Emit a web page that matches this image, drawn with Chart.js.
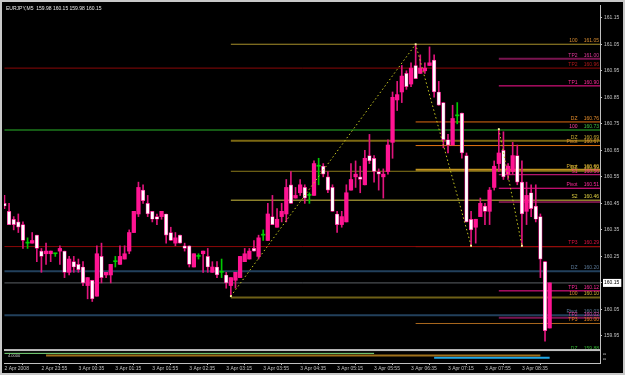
<!DOCTYPE html>
<html>
<head>
<meta charset="utf-8">
<script src="https://cdn.jsdelivr.net/npm/chart.js@4/dist/chart.umd.min.js"></script>
<style>
html,body{margin:0;padding:0;background:#000;}
canvas{display:block;}
</style>
</head>
<body>
<canvas id="c" width="625" height="375"></canvas>
<script>
// EURJPY M5, one bar every 5 minutes from 2 Apr 23:15
var symbol = 'EURJPY,M5';
var candleOpen = [
  160.45,160.42,160.39,160.38,160.37,160.30,160.30,160.33,160.27,160.26,
  160.26,160.26,160.27,160.27,160.19,160.23,160.22,160.21,160.14,160.16,
  160.10,160.25,160.18,160.18,160.23,160.22,160.24,160.27,160.34,160.41,
  160.50,160.45,160.42,160.40,160.40,160.41,160.34,160.30,160.33,160.29,
  160.29,160.21,160.25,160.26,160.25,160.19,160.21,160.19,160.18,160.14,
  160.16,160.17,160.23,160.24,160.28,160.25,160.33,160.31,160.40,160.36,
  160.40,160.41,160.52,160.47,160.49,160.51,160.48,160.48,160.59,160.59,
  160.55,160.51,160.41,160.37,160.38,160.50,160.55,160.55,160.52,160.63,
  160.62,160.57,160.55,160.57,160.68,160.84,160.87,160.94,160.90,160.97,
  160.94,160.95,160.97,160.99,160.87,160.83,160.69,160.67,160.78,160.79,
  160.63,160.39,160.36,160.40,160.44,160.42,160.51,160.60,160.65,160.56,
  160.57,160.63,160.53,160.42,160.49,160.44,160.40,160.23,159.98
];
var candleHigh = [
  160.48,160.45,160.40,160.41,160.38,160.32,160.34,160.33,160.28,160.30,
  160.27,160.26,160.29,160.27,160.25,160.25,160.24,160.23,160.17,160.16,
  160.29,160.30,160.19,160.22,160.25,160.29,160.29,160.35,160.42,160.53,
  160.52,160.48,160.42,160.41,160.42,160.41,160.36,160.34,160.33,160.30,
  160.29,160.26,160.26,160.27,160.28,160.23,160.23,160.24,160.19,160.17,
  160.19,160.25,160.28,160.28,160.31,160.33,160.35,160.45,160.48,160.43,
  160.45,160.54,160.57,160.51,160.54,160.52,160.49,160.61,160.62,160.60,
  160.57,160.52,160.42,160.42,160.52,160.60,160.61,160.59,160.65,160.71,
  160.63,160.58,160.58,160.69,160.87,160.91,160.97,160.95,160.98,161.05,
  161.01,160.98,161.04,161.01,160.91,160.83,160.71,160.82,160.83,160.79,
  160.64,160.42,160.39,160.47,160.45,160.51,160.61,160.73,160.72,160.60,
  160.68,160.67,160.61,160.53,160.52,160.52,160.41,160.23,160.15
];
var candleLow = [
  160.43,160.37,160.35,160.34,160.28,160.28,160.30,160.23,160.19,160.22,
  160.23,160.25,160.22,160.17,160.18,160.19,160.19,160.14,160.09,160.08,
  160.10,160.15,160.17,160.15,160.21,160.22,160.24,160.26,160.34,160.40,
  160.45,160.40,160.38,160.37,160.39,160.30,160.31,160.29,160.30,160.27,
  160.21,160.21,160.24,160.19,160.19,160.19,160.17,160.17,160.13,160.10,
  160.13,160.17,160.23,160.24,160.27,160.24,160.31,160.31,160.37,160.36,
  160.38,160.38,160.45,160.47,160.48,160.45,160.45,160.48,160.52,160.55,
  160.49,160.42,160.34,160.36,160.38,160.50,160.51,160.49,160.52,160.60,
  160.53,160.50,160.47,160.56,160.62,160.80,160.83,160.88,160.89,160.92,
  160.94,160.94,160.97,160.85,160.82,160.66,160.64,160.67,160.75,160.62,
  160.38,160.29,160.30,160.40,160.37,160.37,160.50,160.57,160.54,160.54,
  160.56,160.52,160.29,160.37,160.40,160.38,160.17,159.93,159.98
];
var candleClose = [
  160.44,160.37,160.37,160.36,160.31,160.30,160.31,160.28,160.25,160.27,
  160.27,160.26,160.28,160.19,160.24,160.21,160.20,160.15,160.17,160.09,
  160.26,160.17,160.19,160.22,160.23,160.25,160.26,160.34,160.42,160.51,
  160.46,160.41,160.39,160.39,160.42,160.33,160.31,160.32,160.30,160.28,
  160.22,160.26,160.25,160.27,160.21,160.21,160.18,160.19,160.15,160.17,
  160.19,160.25,160.26,160.27,160.27,160.32,160.33,160.41,160.37,160.39,
  160.42,160.51,160.45,160.48,160.52,160.47,160.48,160.60,160.59,160.56,
  160.50,160.42,160.37,160.40,160.49,160.54,160.56,160.54,160.62,160.61,
  160.57,160.56,160.56,160.67,160.85,160.86,160.93,160.89,160.96,160.92,
  160.96,160.96,160.98,160.87,160.82,160.69,160.67,160.77,160.78,160.64,
  160.38,160.35,160.39,160.45,160.42,160.50,160.59,160.64,160.55,160.59,
  160.63,160.53,160.41,160.48,160.43,160.39,160.24,159.97,160.15
];

var yTicks = [159.95,160.05,160.15,160.25,160.35,160.45,160.55,160.65,160.75,160.85,160.95,161.05,161.15];
var xTickIndex = [0,8,16,24,32,40,48,56,64,72,80,88,96,104,112];
var xTickLabels = ['2 Apr 2008','2 Apr 23:55','3 Apr 00:35','3 Apr 01:15','3 Apr 01:55','3 Apr 02:35',
  '3 Apr 03:15','3 Apr 03:55','3 Apr 04:35','3 Apr 05:15','3 Apr 05:55','3 Apr 06:35',
  '3 Apr 07:15','3 Apr 07:55','3 Apr 08:35'];

// horizontal levels: price, first bar, name, price text
var levelValues = [161.05,160.995,160.96,160.893,160.757,160.727,160.686,160.668,160.577,160.571,
  160.558,160.507,160.462,160.455,160.287,160.287,160.287,160.194,160.15,160.12,
  160.095,160.028,160.019,159.997,159.89];
var levelFrom = [49,107,0,107,89,0,49,89,89,49,107,107,49,107,0,89,107,0,0,107,49,0,107,89,0];
var levelNames = ['100','TP2','TP2','TP1','DZ','100','DZ','Pivot','Pivot','DZ',
  'S1','Pivot','S2','','TP3','','','DZ','','TP1','100','Pivot','TP2','TP3','DZ'];
var levelTexts = ['161.05','161.00','160.96','160.90','160.76','160.73','160.69','160.67','160.60','160.59',
  '160.56','160.51','160.46','','160.29','','','160.20','','160.12','160.10','160.03','160.02','160.00','159.88'];

// zig-zag turning points (bar index, high or low)
var zig1Index = [49, 89, 101];
var zig1Side = ['low', 'high', 'low'];
var zig2Index = [107, 112];
var zig2Side = ['high', 'low'];

// indicator window segments
var indFrom = [0, 9, 93];
var indTo = [80, 116, 118];
var indValue = [3.23, 2.5, 1.73];
var indMax = 4;

// styles
var levelColors = ['#a8902a','#7a1450','#8c0808','#ff1493','#e06c12','#155a15','#7c6812','#e07412','#c09420','#8a7a1a',
  '#e01c88','#ff1493','#d0c040','#e02a8a','#8c0808','#e0501e','#e0104a','#22405c','#5c6066','#ff1493',
  '#6e6016','#22405c','#7a1450','#a8681e','rgba(0,0,0,0)'];
var levelWidths = [1,2,1,1,1,2,2,1,2,1,1,1,1,1,1,1,1,2,1,1,2,2,2,1,1];
var levelNameColors = ['#d88c30','#e0389a','#b01818','#ff2a9a','#e08a2a','#ff40a0','#c8aa30','#e09030','#d8b030','#c8aa30',
  '#ff2a9a','#ff2a9a','#e0d040','#ff2a9a','#e01040','#e0501e','#e0104a','#5a7896','#888','#ff2a9a',
  '#d88c30','#5a7896','#e0389a','#e08020','#30b030'];
var levelTextColors = ['#d88c30','#e0389a','#b01818','#ff2a9a','#e08a2a','#40c040','#c8aa30','#e09030','#d8b030','#c8aa30',
  '#ff2a9a','#ff2a9a','#e0d040','#ff2a9a','#e01040','#e0501e','#e0104a','#5a7896','#888','#ff2a9a',
  '#d0b030','#5a7896','#e0389a','#e08020','#30b030'];
var indColors = ['#80e080', '#a0701a', '#20a8e8'];
var indWidths = [1, 2, 2];

var xMin = -0.1, xMax = 128.9;
var yMin = 159.848, yMax = 161.198;
var FONT = '"Liberation Sans", Arial, sans-serif';

var bid = candleClose[candleClose.length - 1];
function isBid(v){ return Math.abs(v - bid) < 1e-6; }
function isDoji(i){ return candleOpen[i] === candleClose[i]; }
function isBull(i){ return candleClose[i] > candleOpen[i]; }

var idx = candleOpen.map(function(_, i){ return i; });
var datasets = [];

datasets.push({
  type: 'bar', label: 'wicks', order: 2, grouped: false, barThickness: 1,
  data: idx.map(function(i){ return {x: i, y: [candleLow[i], candleHigh[i]]}; }),
  backgroundColor: function(ctx){ return isDoji(ctx.dataIndex) ? '#00c800' : '#e0147c'; }
});
datasets.push({
  type: 'bar', label: 'bodies', order: 1, grouped: false, barThickness: 3.6, minBarLength: 1,
  borderSkipped: false,
  data: idx.map(function(i){ return {x: i, y: [candleOpen[i], candleClose[i]]}; }),
  backgroundColor: function(ctx){
    var i = ctx.dataIndex;
    if (isDoji(i)) return '#00d000';
    return isBull(i) ? '#ff1493' : '#ffffff';
  },
  borderColor: '#ff1493',
  borderWidth: function(ctx){ var i = ctx.dataIndex; return (!isDoji(i) && !isBull(i)) ? 0.7 : 0; }
});

levelValues.forEach(function(v, i){
  datasets.push({
    type: 'line', order: 5, data: [{x: levelFrom[i], y: v}, {x: xMax, y: v}],
    borderColor: levelColors[i], borderWidth: levelWidths[i], pointRadius: 0
  });
});

function zigData(ids, sides){
  return ids.map(function(i, k){ return {x: i, y: sides[k] === 'high' ? candleHigh[i] : candleLow[i]}; });
}
[zigData(zig1Index, zig1Side), zigData(zig2Index, zig2Side)].forEach(function(d){
  datasets.push({
    type: 'line', order: 0, data: d, borderColor: '#c8c820', borderWidth: 1,
    borderDash: [1.5, 2.5], pointStyle: 'rect', pointRadius: 1.3,
    pointBackgroundColor: '#ffffa0', pointBorderWidth: 0
  });
});

indValue.forEach(function(v, k){
  datasets.push({
    type: 'line', order: 3, yAxisID: 'y2',
    data: [{x: indFrom[k], y: v}, {x: indTo[k], y: v}],
    borderColor: indColors[k], borderWidth: indWidths[k], pointRadius: 0
  });
});

var mtPlugin = {
  id: 'mt4',
  beforeDraw: function(chart){
    var c = chart.ctx;
    c.save();
    c.fillStyle = '#000';
    c.fillRect(0, 0, chart.width, chart.height);
    c.restore();
  },
  afterDraw: function(chart){
    var c = chart.ctx, a = chart.chartArea, y = chart.scales.y, y2 = chart.scales.y2;
    c.save();
    c.font = '5px ' + FONT;
    c.textBaseline = 'bottom';
    c.textAlign = 'right';
    levelValues.forEach(function(v, i){
      if (!levelTexts[i]) return;
      var py = y.getPixelForValue(v) - 1;
      c.fillStyle = levelNameColors[i];
      c.fillText(levelNames[i], a.right - 22.5, py);
      c.fillStyle = levelTextColors[i];
      c.fillText(levelTexts[i], a.right - 1, py);
    });

    // indicator window
    var top = y2.getPixelForValue(indMax);
    c.fillStyle = '#c0c0c0';
    c.fillRect(a.left, top - 2, a.right - a.left, 2);
    c.textAlign = 'left';
    c.textBaseline = 'middle';
    c.fillStyle = '#d0d0d0';
    c.font = '4px ' + FONT;
    c.fillText(indMax.toFixed(4), a.left + 4, top + 5);
    c.save();
    c.translate(a.right + 4, top + 2);
    c.rotate(Math.PI / 2);
    c.fillText('0', 0, 0);
    c.fillText('0', 5, 0);
    c.restore();

    // header
    c.font = '5px ' + FONT;
    c.fillStyle = '#e8e8e8';
    var last = candleOpen.length - 1;
    var head = symbol + '  ' + [candleOpen[last], candleHigh[last], candleLow[last], candleClose[last]]
      .map(function(v){ return v.toFixed(2); }).join(' ');
    c.fillText(head, a.left + 2, a.top + 4);

    // window frame
    c.strokeStyle = '#c8c8c8';
    c.lineWidth = 2;
    c.strokeRect(1, 1, chart.width - 2, chart.height - 2);
    c.restore();
  }
};

new Chart(document.getElementById('c'), {
  type: 'bar',
  data: { datasets: datasets },
  options: {
    responsive: false,
    animation: false,
    devicePixelRatio: 1,
    layout: { padding: { left: 3, top: 3, right: 0, bottom: 0 } },
    plugins: { legend: { display: false }, tooltip: { enabled: false } },
    scales: {
      x: {
        type: 'linear', min: xMin, max: xMax, offset: false,
        afterBuildTicks: function(s){ s.ticks = xTickIndex.map(function(v){ return {value: v}; }); },
        afterFit: function(s){ s.height = 12; },
        ticks: {
          autoSkip: false, maxRotation: 0, minRotation: 0, align: 'start', padding: 1,
          color: '#c0c0c0', font: { size: 5, family: FONT },
          callback: function(v){ var k = xTickIndex.indexOf(v); return k < 0 ? '' : xTickLabels[k]; }
        },
        grid: { drawOnChartArea: false, tickLength: 2, color: '#c0c0c0' },
        border: { color: '#c0c0c0' }
      },
      y: {
        position: 'right', min: yMin, max: yMax,
        afterBuildTicks: function(s){ s.ticks = yTicks.map(function(v){ return {value: v}; }); },
        afterFit: function(s){ s.width = 25; },
        ticks: {
          padding: 2, font: { size: 5, family: FONT },
          color: function(ctx){ return isBid(ctx.tick.value) ? '#000' : '#c0c0c0'; },
          showLabelBackdrop: function(ctx){ return isBid(ctx.tick.value); },
          backdropColor: '#ffffff',
          backdropPadding: { left: 1, right: 2, top: 1, bottom: 1 },
          callback: function(v){ return v.toFixed(2); }
        },
        grid: { drawOnChartArea: false, tickLength: 2, color: '#c0c0c0' },
        border: { color: '#c0c0c0' }
      },
      y2: { display: false, min: 0, max: 120 }
    }
  },
  plugins: [mtPlugin]
});
</script>
</body>
</html>
